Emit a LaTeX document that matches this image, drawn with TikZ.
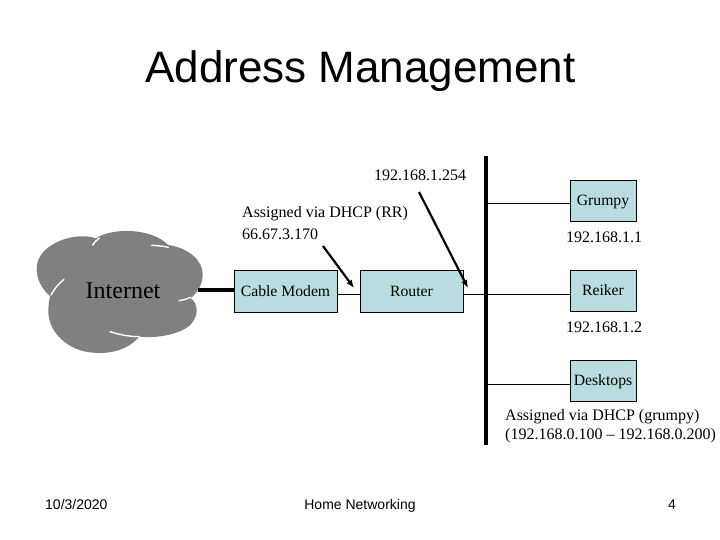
\documentclass[tikz,border=0pt]{standalone}
\usepackage{fontspec}
\setmainfont{Liberation Serif}
\newfontfamily\arialf{Liberation Sans}
\definecolor{boxfill}{HTML}{B8DCE0}
\definecolor{cloudgray}{HTML}{808080}
\newcommand{\lowered}[1]{\raisebox{-4.6pt}[0pt][0pt]{#1}}
\tikzset{
  netbox/.style={draw=black,line width=1pt,fill=boxfill,minimum width=#1,minimum height=41.5pt,inner sep=0pt,font=\fontsize{15.7}{17}\selectfont},
  lab/.style={inner sep=0pt,font=\fontsize{16}{18}\selectfont,align=left},
  foot/.style={inner sep=0pt,anchor=base,font=\arialf\fontsize{14}{16}\selectfont},
  thinlink/.style={line width=1pt,draw=black},
  thicklink/.style={line width=4pt,draw=black},
  slit/.style={draw=white,line width=1.4pt,line cap=round},
  pointer/.style={line width=2.2pt,draw=black,-{Latex[length=8pt,width=6.5pt]}}
}
\usetikzlibrary{arrows.meta}
\begin{document}
\begin{tikzpicture}[x=1pt,y=-1pt]
\useasboundingbox (0,0) rectangle (720,540);
\fill[white] (0,0) rectangle (720,540);
\node[inner sep=0pt,font=\arialf\fontsize{44}{48}\selectfont] (title) at (360.5,71) {Address Management};
% cloud
\begin{scope}[shift={(20,210)},x=0.3333pt,y=-0.3333pt]
\fill[cloudgray] (90,258) .. controls (50,225) and (40,170) .. (60,140)
  .. controls (85,95) and (170,65) .. (228,85)
  .. controls (270,55) and (390,50) .. (445,105)
  .. controls (510,115) and (550,155) .. (548,195)
  .. controls (548,225) and (530,250) .. (512,265)
  .. controls (535,280) and (540,320) .. (505,350)
  .. controls (470,375) and (410,385) .. (358,380)
  .. controls (320,425) and (260,432) .. (220,428)
  .. controls (150,425) and (85,370) .. (85,305)
  .. controls (85,285) and (88,270) .. (90,258) -- cycle;
\draw[slit] (218,105) .. controls (224,96) and (230,90) .. (238,84);
\draw[slit] (395,106) .. controls (412,107) and (428,108) .. (445,112);
\draw[slit] (478,272) .. controls (490,270) and (502,266) .. (512,262);
\draw[slit] (270,365) .. controls (295,373) and (325,380) .. (358,380);
\draw[slit] (93,255) .. controls (102,238) and (115,222) .. (132,208);
\end{scope}
\node[inner sep=0pt,font=\fontsize{24}{26}\selectfont] (internet) at (123,291) {Internet};
\coordinate (cloudedge) at (198,290);
% bus
\node[fill=black,minimum width=4pt,minimum height=289pt,inner sep=0pt] (bus) at (486,300.5) {};
% boxes
\node[netbox=103pt] (modem) at (285.5,291.5) {\lowered{Cable Modem}};
\node[netbox=103pt] (router) at (411.5,291.5) {\lowered{Router}};
\node[netbox=66pt] (grumpy) at (603,201) {\lowered{Grumpy}};
\node[netbox=66pt] (reiker) at (603,291) {\lowered{Reiker}};
\node[netbox=66pt] (desktops) at (603,381) {\lowered{Desktops}};
% connectors
\draw[thicklink] (cloudedge) -- (modem.west |- cloudedge);
\draw[thinlink] ([yshift=-2.5pt]modem.east) -- ([yshift=-2.5pt]router.west);
\draw[thinlink] ([yshift=-2.5pt]router.east) -- ([yshift=-3pt]reiker.west);
\draw[thinlink] ([yshift=-3pt]grumpy.west) -- ([yshift=-3pt]grumpy.west -| bus.east);
\draw[thinlink] ([yshift=-3pt]desktops.west) -- ([yshift=-3pt]desktops.west -| bus.east);
% labels
\node[lab,anchor=west] (ip254) at (374,175) {192.168.1.254};
\node[lab,anchor=west] (dhcprr) at (242,214) {Assigned via DHCP (RR)};
\node[lab,anchor=west] (wan) at (242,234) {66.67.3.170};
\node[lab,anchor=west] (ip1) at (566,237) {192.168.1.1};
\node[lab,anchor=west] (ip2) at (566,327) {192.168.1.2};
\node[lab,anchor=west] (dhcpg) at (505,417) {Assigned via DHCP (grumpy)};
\node[lab,anchor=west] (range) at (505,436) {(192.168.0.100 -- 192.168.0.200)};
% pointers
\coordinate (p1s) at (323,246); \coordinate (p1e) at (354,288);
\coordinate (p2s) at (419,192); \coordinate (p2e) at (468,288);
\draw[pointer] (p1s) -- (p1e);
\draw[pointer] (p2s) -- (p2e);
% footer
\node[foot,anchor=base west] (date) at (45,509) {10/3/2020};
\node[foot] (foottext) at (360,509) {Home Networking};
\node[foot] (pagenum) at (672,509) {4};
\end{tikzpicture}
\end{document}
